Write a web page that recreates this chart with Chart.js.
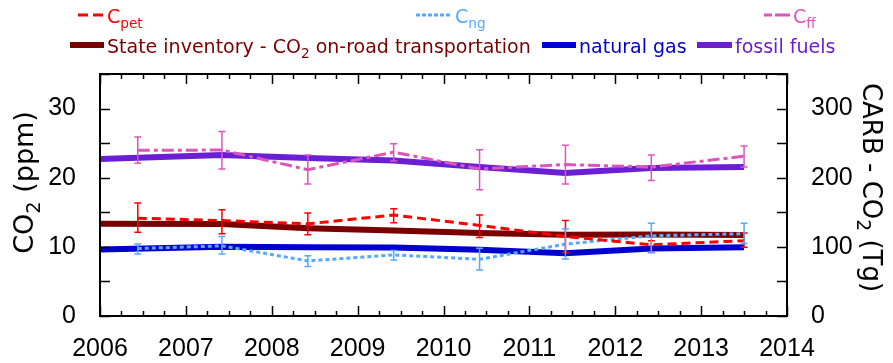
<!DOCTYPE html>
<html><head><meta charset="utf-8">
<script src="https://cdn.jsdelivr.net/npm/chart.js@4"></script>
<style>html,body{margin:0;padding:0;background:#fff;}#wrap{width:893px;height:363px;position:relative;}</style>
</head><body><div id="wrap"><canvas id="c"></canvas></div>
<script>
// ---- data ----
const xC   = [2006.44, 2007.42, 2008.42, 2009.42, 2010.42, 2011.42, 2012.42, 2013.5];
const xInv = [2006.0, 2007.42, 2008.42, 2009.42, 2010.42, 2011.42, 2012.42, 2013.5];
const cPet     = [14.15, 13.8, 13.33, 14.6, 13.1, 11.5, 10.3, 10.9];
const cPetLow  = [12.1, 11.9, 11.74, 13.5, 11.35, 9.2, 9.17, 9.96];
const cPetHigh = [16.33, 15.36, 14.9, 15.5, 14.6, 13.8, 10.9, 12.0];
const cNg      = [9.76, 10.14, 7.97, 8.84, 8.2, 10.4, 11.6, 11.9];
const cNgLow   = [8.98, 8.98, 7.15, 8.1, 6.67, 8.26, 9.17, 10.5];
const cNgHigh  = [10.4, 11.5, 8.7, 9.46, 9.8, 12.6, 13.43, 13.43];
const cFf      = [23.96, 24.0, 21.16, 23.7, 21.26, 21.9, 21.55, 23.1];
const cFfLow   = [22.1, 21.26, 19.1, 22.4, 18.26, 19.1, 19.6, 21.55];
const cFfHigh  = [25.9, 26.7, 23.3, 24.9, 24.05, 24.7, 23.3, 24.6];
const invOnRoad = [133.3, 133, 127, 123.7, 120, 117.4, 118, 117];
const invNatGas = [96, 100, 99.5, 99, 95.7, 90.7, 97.6, 99.6];
const invFossil = [227, 233, 228.5, 225, 215.5, 207, 214, 215.5];
const xTickLabels = [2006, 2007, 2008, 2009, 2010, 2011, 2012, 2013, 2014];
const yTickLabels = [0, 10, 20, 30];
const y2TickLabels = [0, 100, 200, 300];

const pts = (xs, ys) => xs.map((x, i) => ({x: x, y: ys[i]}));
const FONT = "'Liberation Sans', Arial, sans-serif";
const TFONT = "'DejaVu Sans', Verdana, sans-serif";

// rich text: "CO_{2}" -> segments
function parseRich(s) {
  const out = []; const re = /_\{([^}]*)\}/g; let last = 0, m;
  while ((m = re.exec(s))) { if (m.index > last) out.push([s.slice(last, m.index), false]); out.push([m[1], true]); last = re.lastIndex; }
  if (last < s.length) out.push([s.slice(last), false]);
  return out;
}
function richWidth(ctx, s, size, fam) {
  let w = 0;
  for (const [t, sub] of parseRich(s)) { ctx.font = (sub ? size * 0.72 : size) + 'px ' + fam; w += ctx.measureText(t).width; }
  return w;
}
function drawRich(ctx, s, x, y, size, color, fam) { // y = baseline
  ctx.fillStyle = color; ctx.textBaseline = 'alphabetic'; ctx.textAlign = 'left';
  for (const [t, sub] of parseRich(s)) {
    const fs = sub ? size * 0.72 : size;
    ctx.font = fs + 'px ' + fam;
    ctx.fillText(t, x, sub ? y + size * 0.25 : y);
    x += ctx.measureText(t).width;
  }
}

const decorPlugin = {
  id: 'decor',
  afterDatasetsDraw(chart) {
    const ctx = chart.ctx;
    const xs = chart.scales.x, ys = chart.scales.y;
    // error bars
    chart.data.datasets.forEach((ds) => {
      if (!ds.errLow) return;
      ctx.save(); ctx.strokeStyle = ds.borderColor; ctx.lineWidth = 1.5; ctx.setLineDash([]);
      ds.data.forEach((p, i) => {
        const px = xs.getPixelForValue(p.x);
        const lo = ys.getPixelForValue(ds.errLow[i]), hi = ys.getPixelForValue(ds.errHigh[i]);
        ctx.beginPath();
        ctx.moveTo(px, lo); ctx.lineTo(px, hi);
        ctx.moveTo(px - 3.5, lo); ctx.lineTo(px + 3.5, lo);
        ctx.moveTo(px - 3.5, hi); ctx.lineTo(px + 3.5, hi);
        ctx.stroke();
      });
      ctx.restore();
    });
  },
  afterDraw(chart) {
    const ctx = chart.ctx, a = chart.chartArea;
    const xs = chart.scales.x, ys = chart.scales.y, y2 = chart.scales.y2;
    ctx.save();
    ctx.strokeStyle = '#000'; ctx.lineWidth = 1.5; ctx.setLineDash([]);
    // x ticks (inward, top and bottom)
    xs.ticks.forEach(t => {
      const px = Math.round(xs.getPixelForValue(t.value)) + 0.5;
      const major = Math.abs(t.value - Math.round(t.value)) < 1e-6;
      const L = major ? 10 : 5;
      ctx.beginPath();
      ctx.moveTo(px, a.bottom); ctx.lineTo(px, a.bottom - L);
      ctx.moveTo(px, a.top); ctx.lineTo(px, a.top + L);
      ctx.stroke();
    });
    ys.ticks.forEach(t => {
      const py = Math.round(ys.getPixelForValue(t.value)) + 0.5;
      ctx.beginPath(); ctx.moveTo(a.left, py); ctx.lineTo(a.left + 10, py); ctx.stroke();
    });
    y2.ticks.forEach(t => {
      const py = Math.round(y2.getPixelForValue(t.value)) + 0.5;
      ctx.beginPath(); ctx.moveTo(a.right, py); ctx.lineTo(a.right - 10, py); ctx.stroke();
    });
    // frame
    ctx.lineWidth = 2;
    ctx.strokeRect(a.left, a.top, a.right - a.left, a.bottom - a.top);
    // axis titles
    const t1 = 'CO_{2} (ppm)', tsz = 27;
    ctx.save(); ctx.translate(33, 182.5); ctx.rotate(-Math.PI / 2);
    drawRich(ctx, t1, -richWidth(ctx, t1, tsz, TFONT) / 2, 0, tsz, '#000', TFONT); ctx.restore();
    const t2 = 'CARB - CO_{2} (Tg)', tsz2 = 26;
    ctx.save(); ctx.translate(863, 187.5); ctx.rotate(Math.PI / 2);
    drawRich(ctx, t2, -richWidth(ctx, t2, tsz2, TFONT) / 2, 0, tsz2, '#000', TFONT); ctx.restore();
    // legend
    const lsz = 19;
    const rowX = [[78, 416, 764], [70, 542, 697]];
    const rowLen = [[26, 36, 26], [34, 34, 35]];
    const rowY = [15, 45];
    const cnt = [0, 0];
    chart.data.datasets.forEach(ds => {
      const r = ds.legendRow, k = cnt[r]++;
      const lx = rowX[r][k], ly = rowY[r], len = rowLen[r][k];
      ctx.save(); ctx.strokeStyle = ds.borderColor; ctx.lineWidth = ds.legendLineWidth; ctx.setLineDash(ds.legendDash || []);
      ctx.beginPath(); ctx.moveTo(lx, ly); ctx.lineTo(lx + len, ly); ctx.stroke(); ctx.restore();
      drawRich(ctx, ds.label, lx + len + 3, ly + 8, lsz, ds.borderColor, TFONT);
    });
    ctx.restore();
  }
};

const thin = {pointRadius: 0, borderWidth: 3, fill: false, tension: 0, yAxisID: 'y', order: 0, legendLineWidth: 3, legendRow: 0};
const thick = {pointRadius: 0, borderWidth: 6, fill: false, tension: 0, yAxisID: 'y2', order: 1, legendLineWidth: 6, legendRow: 1};

new Chart(document.getElementById('c'), {
  type: 'line',
  data: {
    datasets: [
      Object.assign({}, thin, {label: 'C_{pet}', data: pts(xC, cPet), borderColor: '#ff0000', borderDash: [9, 5], legendDash: [10, 5], errLow: cPetLow, errHigh: cPetHigh}),
      Object.assign({}, thin, {label: 'C_{ng}', data: pts(xC, cNg), borderColor: '#55aaff', borderDash: [4, 3], legendDash: [4, 2], errLow: cNgLow, errHigh: cNgHigh}),
      Object.assign({}, thin, {label: 'C_{ff}', data: pts(xC, cFf), borderColor: '#dd55bb', borderDash: [12, 4, 4, 4], legendDash: [8, 3, 15, 3], errLow: cFfLow, errHigh: cFfHigh}),
      Object.assign({}, thick, {label: 'State inventory - CO_{2} on-road transportation', data: pts(xInv, invOnRoad), borderColor: '#7a0000'}),
      Object.assign({}, thick, {label: 'natural gas', data: pts(xInv, invNatGas), borderColor: '#0000cc'}),
      Object.assign({}, thick, {label: 'fossil fuels', data: pts(xInv, invFossil), borderColor: '#6a1fd4'})
    ]
  },
  options: {
    responsive: true, maintainAspectRatio: false, animation: false,
    layout: {padding: {top: 74, left: 0, right: 0, bottom: 0}},
    plugins: {legend: {display: false}, tooltip: {enabled: false}},
    scales: {
      x: {
        type: 'linear', min: 2006, max: 2014, position: 'bottom',
        grid: {display: false}, border: {display: false},
        afterBuildTicks: s => { const t = []; for (let v = 2006; v <= 2014 + 1e-9; v += 0.25) t.push({value: v}); s.ticks = t; },
        afterFit: s => { s.height = 47; },
        ticks: {autoSkip: false, maxRotation: 0, padding: 10, color: '#000', font: {family: FONT, size: 25},
          callback: v => xTickLabels.includes(Math.round(v * 100) / 100) ? String(v) : ''}
      },
      y: {
        type: 'linear', min: 0, max: 35, position: 'left',
        grid: {display: false}, border: {display: false},
        afterFit: s => { s.width = 100; },
        ticks: {stepSize: 5, padding: 16, color: '#000', font: {family: FONT, size: 25},
          callback: v => yTickLabels.includes(v) ? String(v) : ''}
      },
      y2: {
        type: 'linear', min: 0, max: 350, position: 'right',
        grid: {display: false}, border: {display: false},
        afterFit: s => { s.width = 106; },
        ticks: {stepSize: 50, padding: 16, color: '#000', font: {family: FONT, size: 25},
          callback: v => y2TickLabels.includes(v) ? String(v) : ''}
      }
    }
  },
  plugins: [decorPlugin]
});
</script></body></html>
